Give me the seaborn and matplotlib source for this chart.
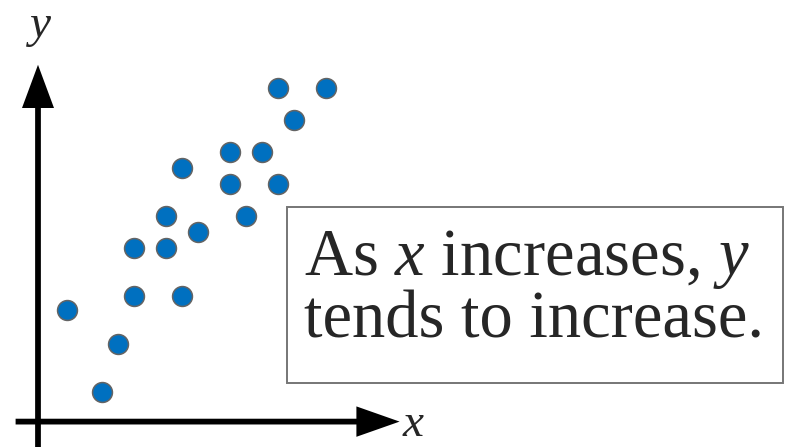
import matplotlib
matplotlib.use("Agg")
import matplotlib.pyplot as plt
from matplotlib.patches import FancyArrow, Rectangle
import seaborn as sns
import pandas as pd

# scatter values (grid units)
x_vals = [1.8, 4, 5, 6, 6, 8, 8, 9, 9, 10, 12, 12, 13, 14, 15, 15, 16, 18]
y_vals = [6.1, 1, 4, 10, 7, 12, 10, 15, 7, 11, 16, 14, 12, 16, 14, 20, 18, 20]
note_lines = ["As $x$ increases, $y$", "tends to increase."]

df = pd.DataFrame({"x": x_vals, "y": y_vals})

sns.set_style("white")
plt.rcParams["font.family"] = ["Liberation Serif", "DejaVu Serif"]
plt.rcParams["mathtext.fontset"] = "custom"
plt.rcParams["mathtext.it"] = "Liberation Serif:italic"
plt.rcParams["mathtext.rm"] = "Liberation Serif"

fig = plt.figure(figsize=(7.88, 4.47), dpi=100)
ax = fig.add_axes([0, 0, 1, 1])
ax.set_xlim(-2.375, 46.875)
ax.set_ylim(-2.4375, 25.5)
ax.axis("off")

# axes with arrow heads
ax.add_patch(FancyArrow(0, -2.6, 0, 24.05, width=0.36, head_width=2.0, head_length=2.7,
                        length_includes_head=True, color="black", lw=0))
ax.add_patch(FancyArrow(-1.4, -0.85, 24.0, 0, width=0.36, head_width=1.9, head_length=2.7,
                        length_includes_head=True, color="black", lw=0))

sns.scatterplot(data=df, x="x", y="y", ax=ax, s=205, color="#0070c0",
                edgecolor="#646464", linewidth=1.1, zorder=3)

ax.text(0.1, 23.75, "$y$", fontsize=34, ha="center", va="center")
ax.text(22.75, -1.75, "$x$", fontsize=34, ha="left", va="baseline")

ax.add_patch(Rectangle((15.56, 1.56), 31.0, 11.0, fill=False, edgecolor="#767676", lw=1.4))
ax.text(16.65, 8.31, note_lines[0], fontsize=48, ha="left", va="baseline")
ax.text(16.65, 4.375, note_lines[1], fontsize=48, ha="left", va="baseline")

ax.set_xlabel("")
ax.set_ylabel("")
fig.savefig("out.png", dpi=100)
